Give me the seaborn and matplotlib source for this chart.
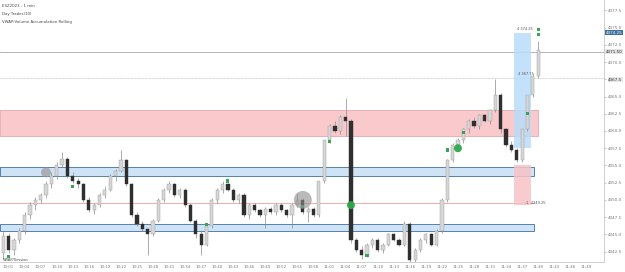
import matplotlib
matplotlib.use("Agg")
import matplotlib.pyplot as plt
from matplotlib.patches import Rectangle, Ellipse
import seaborn as sns
import pandas as pd
import numpy as np

# ---------------- data ----------------
opens = [4342.25, 4344.75, 4342.75, 4344.25, 4345.5, 4347.75, 4349.25, 4350.0, 4350.75, 4352.25,
         4353.5, 4355.0, 4356.0, 4353.5, 4352.75, 4352.25, 4350.0, 4348.5, 4349.25, 4350.75,
         4351.5, 4353.5, 4354.25, 4355.75, 4352.25, 4347.75, 4346.5, 4345.75, 4345.0, 4347.0,
         4350.0, 4351.5, 4352.25, 4350.75, 4351.5, 4349.25, 4347.0, 4345.0, 4343.5, 4346.25,
         4350.0, 4351.5, 4352.25, 4351.5, 4350.0, 4350.75, 4347.75, 4349.25, 4348.5, 4347.75,
         4348.75, 4348.25, 4349.25, 4348.5, 4347.75, 4349.25, 4350.0, 4348.25, 4348.75, 4347.75,
         4352.75, 4358.75, 4360.75, 4360.0, 4362.0, 4361.5, 4344.25, 4342.75, 4342.0, 4343.5,
         4344.25, 4342.75, 4343.5, 4345.0, 4344.25, 4343.5, 4346.5, 4341.25, 4342.75, 4344.25,
         4345.0, 4343.5, 4345.5, 4350.0, 4355.75, 4358.0, 4358.75, 4360.25, 4361.5, 4360.75,
         4362.25, 4361.5, 4363.0, 4365.25, 4360.25, 4358.0, 4357.25, 4355.75, 4360.25, 4365.25,
         4368.0]
highs = [4345.5, 4345.25, 4344.5, 4346.0, 4348.25, 4349.75, 4350.5, 4351.0, 4352.75, 4354.0,
         4355.5, 4357.0, 4356.25, 4354.0, 4353.25, 4352.5, 4350.5, 4349.5, 4351.0, 4352.0,
         4353.75, 4354.5, 4357.25, 4356.0, 4352.5, 4348.25, 4347.0, 4346.0, 4347.25, 4350.25,
         4351.75, 4352.75, 4352.5, 4351.75, 4351.75, 4349.5, 4347.25, 4345.5, 4346.5, 4350.25,
         4351.75, 4352.75, 4352.5, 4351.75, 4351.0, 4351.0, 4349.5, 4349.5, 4348.75, 4349.0,
         4349.0, 4349.5, 4349.5, 4348.75, 4349.5, 4351.0, 4350.25, 4349.0, 4349.0, 4352.75,
         4358.75, 4361.0, 4361.5, 4362.25, 4364.75, 4361.75, 4344.5, 4343.25, 4343.75, 4344.5,
         4344.5, 4343.75, 4345.25, 4345.25, 4344.5, 4347.0, 4346.75, 4343.0, 4344.5, 4345.25,
         4345.25, 4345.75, 4350.25, 4356.0, 4358.25, 4359.0, 4360.5, 4361.75, 4362.0, 4362.5,
         4362.5, 4363.25, 4367.5, 4365.5, 4360.5, 4358.5, 4357.5, 4360.25, 4365.25, 4368.25,
         4373.0]
lows = [4341.5, 4342.25, 4342.0, 4343.75, 4345.0, 4347.25, 4348.5, 4349.5, 4350.25, 4351.75,
        4353.0, 4354.75, 4353.25, 4352.5, 4351.75, 4349.75, 4348.25, 4348.0, 4349.0, 4350.25,
        4351.25, 4352.75, 4354.0, 4352.0, 4347.5, 4346.25, 4345.5, 4342.0, 4344.75, 4346.75,
        4349.75, 4351.0, 4350.5, 4350.25, 4349.0, 4346.75, 4344.5, 4342.0, 4343.25, 4346.0,
        4349.5, 4351.0, 4351.25, 4349.75, 4349.5, 4347.5, 4347.25, 4348.25, 4347.5, 4346.0,
        4348.0, 4347.75, 4348.25, 4347.5, 4346.0, 4349.0, 4348.0, 4346.75, 4347.5, 4347.5,
        4352.5, 4358.25, 4359.75, 4359.5, 4359.25, 4343.75, 4342.5, 4341.5, 4341.75, 4343.0,
        4342.5, 4342.25, 4343.25, 4344.0, 4343.25, 4343.25, 4340.75, 4341.0, 4342.5, 4343.75,
        4343.25, 4343.25, 4345.25, 4349.75, 4355.5, 4357.5, 4358.25, 4359.75, 4360.5, 4360.25,
        4361.25, 4361.0, 4362.75, 4359.75, 4357.75, 4357.0, 4355.5, 4355.5, 4360.0, 4365.0,
        4367.75]
closes = [4344.75, 4342.75, 4344.25, 4345.5, 4347.75, 4349.25, 4350.0, 4350.75, 4352.25, 4353.5,
          4355.0, 4356.0, 4353.5, 4352.75, 4352.25, 4350.0, 4348.5, 4349.25, 4350.75, 4351.5,
          4353.5, 4354.25, 4355.75, 4352.25, 4347.75, 4346.5, 4345.75, 4345.0, 4347.0, 4350.0,
          4351.5, 4352.25, 4350.75, 4351.5, 4349.25, 4347.0, 4345.0, 4343.5, 4346.25, 4350.0,
          4351.5, 4352.25, 4351.5, 4350.0, 4350.75, 4347.75, 4349.25, 4348.5, 4347.75, 4348.75,
          4348.25, 4349.25, 4348.5, 4347.75, 4349.25, 4350.0, 4348.25, 4348.75, 4347.75, 4352.75,
          4358.75, 4360.75, 4360.0, 4362.0, 4361.5, 4344.25, 4342.75, 4342.0, 4343.5, 4344.25,
          4342.75, 4343.5, 4345.0, 4344.25, 4343.5, 4346.5, 4341.25, 4342.75, 4344.25, 4345.0,
          4343.5, 4345.5, 4350.0, 4355.75, 4358.0, 4358.75, 4360.25, 4361.5, 4360.75, 4362.25,
          4361.5, 4363.0, 4365.25, 4360.25, 4358.0, 4357.25, 4355.75, 4360.25, 4365.25, 4368.0,
          4371.75]

signal_idx = [1, 13, 38, 42, 56, 61, 68, 83, 86, 98, 100, 100]
signal_price = [4341.75, 4352.0, 4346.5, 4352.75, 4349.0, 4358.5, 4342.0, 4357.25, 4359.75,
                4362.5, 4374.0, 4374.75]

# zones (price ranges)
red_zone = (4359.25, 4363.0)
blue_zone_1 = (4353.5, 4354.75)
blue_zone_2 = (4345.5, 4346.5)
red_line = 4349.5
gray_line = 4371.5
dotted_line = 4367.75
target_box = (4357.5, 4374.25)
stop_box = (4349.25, 4355.0)

y_ticks = [4377.5, 4375.0, 4372.5, 4370.0, 4367.5, 4365.0, 4362.5, 4360.0, 4357.5,
           4355.0, 4352.5, 4350.0, 4347.5, 4345.0, 4342.5]
x_tick_labels = ["10:01", "10:04", "10:07", "10:10", "10:13", "10:16", "10:19", "10:22",
                 "10:25", "10:28", "10:31", "10:34", "10:37", "10:40", "10:43", "10:46",
                 "10:49", "10:52", "10:55", "10:58", "11:01", "11:04", "11:07", "11:10",
                 "11:13", "11:16", "11:19", "11:22", "11:25", "11:28", "11:31", "11:34",
                 "11:37", "11:40", "11:43", "11:46", "11:49"]

df = pd.DataFrame({"open": opens, "high": highs, "low": lows, "close": closes})
df["idx"] = np.arange(len(df))
df["up"] = df["close"] >= df["open"]
sig = pd.DataFrame({"idx": signal_idx, "price": signal_price})

# ---------------- figure ----------------
sns.set_theme(style="white")
plt.rcParams["font.family"] = ["DejaVu Sans"]
fig = plt.figure(figsize=(6.25, 2.72), dpi=100)
fig.patch.set_facecolor("white")
ax = fig.add_axes([0.0, 10 / 272, 604 / 625, 262 / 272])
ax.set_facecolor("white")

xmin, xmax = -0.6, 112.3
ymin, ymax = 4341.0, 4379.0
ax.set_xlim(xmin, xmax)
ax.set_ylim(ymin, ymax)

n = len(df)
zone_end = n - 1.8
# zones
ax.add_patch(Rectangle((xmin, red_zone[0]), zone_end + 0.8 - xmin, red_zone[1] - red_zone[0],
                       facecolor="#f9c9cc", edgecolor="#d8a0a4", lw=0.5, zorder=1))
for bz in (blue_zone_1, blue_zone_2):
    ax.add_patch(Rectangle((xmin, bz[0]), zone_end - xmin, bz[1] - bz[0],
                           facecolor="#cfe3f7", edgecolor="#3d6f9e", lw=0.6, zorder=1))
ax.axhline(red_line, xmax=(zone_end - xmin) / (xmax - xmin), color="#f08a8a", lw=0.5, zorder=1)
ax.axhline(gray_line, color="#a8a8a8", lw=0.6, zorder=1)
ax.axhline(dotted_line, color="#b0b0b0", lw=0.5, ls=(0, (1, 1)), zorder=1)

# target / stop boxes
bx0 = n - 5.6
bw = 3.2
ax.add_patch(Rectangle((bx0, target_box[0]), bw, target_box[1] - target_box[0],
                       facecolor="#b9dcfa", edgecolor="none", alpha=0.85, zorder=1.5))
ax.add_patch(Rectangle((bx0, stop_box[0]), bw, stop_box[1] - stop_box[0],
                       facecolor="#f7c3c6", edgecolor="none", alpha=0.85, zorder=1.5))

# candles
up = df[df["up"]]
dn = df[~df["up"]]
ax.vlines(df["idx"], df["low"], df["high"], color="#8a8a8a", lw=0.5, zorder=2)
ax.bar(up["idx"], up["close"] - up["open"], bottom=up["open"], width=0.6,
       color="#d6d6d6", edgecolor="#9a9a9a", linewidth=0.3, zorder=3)
ax.bar(dn["idx"], dn["open"] - dn["close"], bottom=dn["close"], width=0.6,
       color="#2f2f2f", edgecolor="#2f2f2f", linewidth=0.3, zorder=3)

# signal markers
sns.scatterplot(data=sig, x="idx", y="price", ax=ax, color="#3aa35a", s=5,
                marker="s", edgecolor="none", zorder=5, legend=False)

# circles (pixel-sized via ellipses)
px_x = (xmax - xmin) / 604
px_y = (ymax - ymin) / 262
for (ci, cp, r, fc, a) in [(8, 4354.0, 5, "#9a9a9a", 0.7), (56, 4350.0, 9, "#8c8c8c", 0.6),
                          (65, 4349.25, 4, "#2fa84a", 0.95), (85, 4357.5, 4, "#2fa84a", 0.95)]:
    ax.add_patch(Ellipse((ci, cp), 2 * r * px_x, 2 * r * px_y, facecolor=fc,
                         edgecolor="none", alpha=a, zorder=6))

# annotations
ax.text(n - 5.0, 4374.6, "4 374.25", fontsize=2.6, color="#555555", zorder=7)
ax.text(n - 4.8, 4368.1, "4 367.75", fontsize=2.6, color="#555555", zorder=7)
ax.text(n - 3.4, 4349.4, "-1  4349.25", fontsize=2.6, color="#555555", zorder=7)

# header texts
fig.text(0.004, 1 - 6 / 272, "ESZ2023 - 1 min", fontsize=2.8, color="#444444", va="center")
fig.text(0.004, 1 - 14 / 272, "Day Trades(10)", fontsize=2.8, color="#444444", va="center")
fig.text(0.004, 1 - 22 / 272, "VWAP/Volume Accumulation Rolling", fontsize=2.8,
         color="#444444", va="center")
fig.text(0.004, 1 - 262 / 272, "VWAP/Session", fontsize=2.6, color="#444444", va="bottom")

# axes styling
for s in ("top", "left"):
    ax.spines[s].set_visible(False)
ax.spines["right"].set_color("#c8c8c8")
ax.spines["right"].set_linewidth(0.6)
ax.spines["bottom"].set_color("#c8c8c8")
ax.spines["bottom"].set_linewidth(0.6)
ax.yaxis.tick_right()
ax.set_yticks(y_ticks)
ax.set_yticklabels([f"{v:.1f}" for v in y_ticks], fontsize=3, color="#777777")
ax.tick_params(axis="y", length=1.5, width=0.4, pad=1.5, colors="#999999", labelcolor="#777777")
ax.set_xticks(np.arange(1, 1 + 3 * len(x_tick_labels), 3))
ax.set_xticklabels(x_tick_labels, fontsize=2.8, color="#777777")
ax.tick_params(axis="x", length=1.5, width=0.4, pad=1, colors="#999999", labelcolor="#777777")
ax.set_xlabel("")
ax.set_ylabel("")

# highlight tick label near the dotted line
for lbl, v in zip(ax.get_yticklabels(), y_ticks):
    if v == 4367.5:
        lbl.set_bbox(dict(boxstyle="square,pad=0.15", fc="#e6e6e6", ec="none"))
        lbl.set_color("#333333")

# price label highlights on right axis
ax.text(xmax + 0.3, target_box[1], "4374.25", fontsize=3, color="white", va="center",
        ha="left", clip_on=False,
        bbox=dict(boxstyle="square,pad=0.15", fc="#3d6f9e", ec="none"))
ax.text(xmax + 0.3, gray_line, f"{gray_line:.2f}", fontsize=3, color="#333333", va="center",
        ha="left", clip_on=False,
        bbox=dict(boxstyle="square,pad=0.15", fc="#e2e2e2", ec="none"))

fig.savefig("out.png", dpi=100, facecolor="white")
